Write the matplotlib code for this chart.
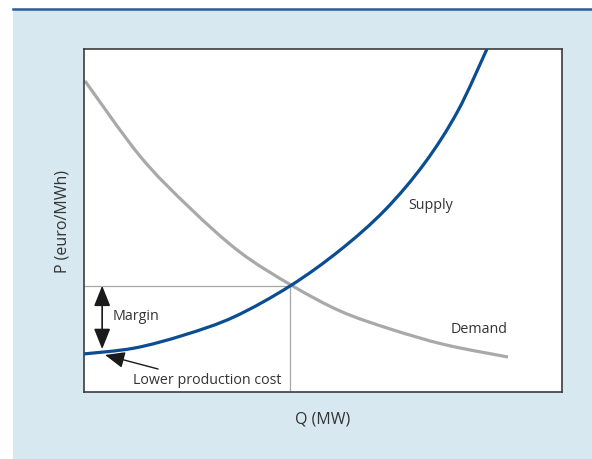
import matplotlib
matplotlib.use("Agg")
import matplotlib.pyplot as plt
import numpy as np
from matplotlib.patches import Rectangle, PathPatch
from matplotlib.path import Path
from matplotlib.lines import Line2D

plt.rcParams['font.family'] = ['Open Sans', 'DejaVu Sans']

# Supply and demand curves (Q in MW, P in euro/MWh, arbitrary units 0-100)
demand_q = [0.2, 11.7, 22.2, 32.6, 43.3, 53.6, 64.0, 75.5, 88.7]
demand_p = [90.7, 68.8, 53.6, 40.8, 31.2, 23.6, 18.4, 13.8, 10.2]

supply_q = [0.0, 10.5, 20.9, 31.4, 43.1, 53.6, 63.0, 71.3, 78.2, 84.3]
supply_p = [11.1, 12.8, 16.6, 21.9, 30.9, 41.4, 53.1, 66.8, 81.9, 100.0]

equilibrium_q = 43.2
equilibrium_p = 31.0
lowest_cost_p = 12.5

TEXT = '#333333'


def smooth_path(xs, ys):
    """Cubic Bezier path through every point (Catmull-Rom tangents)."""
    pts = np.column_stack([xs, ys]).astype(float)
    verts = [pts[0]]
    codes = [Path.MOVETO]
    n = len(pts)
    for i in range(n - 1):
        p0 = pts[i - 1] if i > 0 else pts[i]
        p1, p2 = pts[i], pts[i + 1]
        p3 = pts[i + 2] if i + 2 < n else pts[i + 1]
        c1 = p1 + (p2 - p0) / 6.0
        c2 = p2 - (p3 - p1) / 6.0
        verts += [c1, c2, p2]
        codes += [Path.CURVE4] * 3
    return Path(verts, codes)


fig = plt.figure(figsize=(5.92, 4.60), dpi=100)

# light blue panel with a dark rule along its top
fig.patches.append(Rectangle((13 / 592, 0), 1, 1 - 10 / 460, transform=fig.transFigure,
                             facecolor='#d7e8f1', edgecolor='none', zorder=-10))
fig.lines.append(Line2D([13 / 592, 1], [1 - 9.5 / 460] * 2, transform=fig.transFigure,
                        color='#2b5e97', linewidth=1.8, zorder=-9))

ax = fig.add_axes([84 / 592, 1 - 393 / 460, 478 / 592, 343 / 460])
ax.set_facecolor('white')
ax.set_xlim(0, 100)
ax.set_ylim(0, 100)
ax.set_xticks([])
ax.set_yticks([])
for s in ax.spines.values():
    s.set_color('#3d3d3d')
    s.set_linewidth(1.2)

# guide lines to the equilibrium point
ax.plot([0, equilibrium_q], [equilibrium_p, equilibrium_p], color='#a6a6a6', linewidth=0.9, zorder=1)
ax.plot([equilibrium_q, equilibrium_q], [0, equilibrium_p], color='#a6a6a6', linewidth=0.9, zorder=1)

ax.add_patch(PathPatch(smooth_path(demand_q, demand_p), facecolor='none',
                       edgecolor='#a9a9a9', linewidth=2.3, capstyle='butt', zorder=2))
ax.add_patch(PathPatch(smooth_path(supply_q, supply_p), facecolor='none',
                       edgecolor='#0b4d93', linewidth=2.3, capstyle='butt', zorder=3))

ax.text(67.8, 54.8, 'Supply', fontsize=10.3, color=TEXT, va='center', ha='left')
ax.text(76.6, 18.4, 'Demand', fontsize=10.3, color=TEXT, va='center', ha='left')

# margin between lowest production cost and the market price
ax.annotate('', xy=(3.8, equilibrium_p), xytext=(3.8, lowest_cost_p),
            arrowprops=dict(arrowstyle='<|-|>,head_length=1.25,head_width=0.5',
                            color='#1a1a1a', linewidth=1.2, shrinkA=0, shrinkB=0))
ax.text(5.9, 22.2, 'Margin', fontsize=10.3, color=TEXT, va='center', ha='left')

ax.annotate('', xy=(4.4, 10.8), xytext=(15.5, 6.7),
            arrowprops=dict(arrowstyle='-|>,head_length=1.2,head_width=0.5',
                            color='#1a1a1a', linewidth=1.0, shrinkA=0, shrinkB=0))
ax.text(10.3, 3.5, 'Lower production cost', fontsize=10.3, color=TEXT, va='center', ha='left')

ax.set_xlabel('Q (MW)', fontsize=11.5, color=TEXT, labelpad=13)
ax.set_ylabel('P (euro/MWh)', fontsize=11.5, color=TEXT, labelpad=10)

fig.savefig('out.png', dpi=100)
